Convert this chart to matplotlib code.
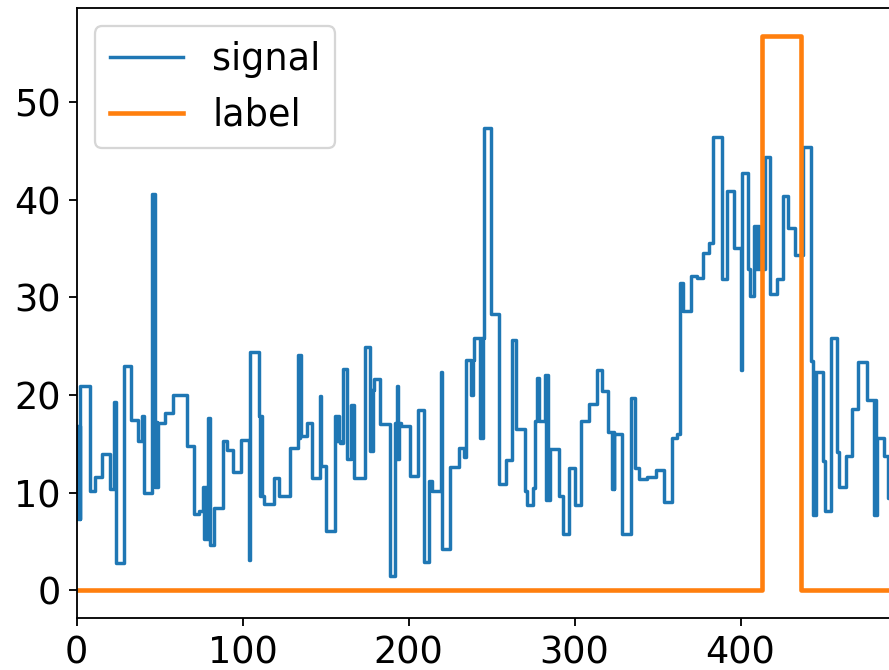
import matplotlib
matplotlib.use("Agg")
import matplotlib.pyplot as plt

# step start positions and values of the signal
signal_x = [0, 0.7, 1.4, 2, 2.4, 8, 11.4, 15.5, 19.9, 22.5, 23.5, 28.5, 32.9, 36.9, 39.6,
            40.6, 45.6, 47, 47.7, 48.3, 49, 53.6, 58.2, 66.3, 70.7, 73.7, 76.3, 77, 77.7,
            78.3, 79.1, 80.3, 82.7, 88.4, 90.8, 94.2, 98.8, 103.8, 104.4, 109.8, 110.5,
            111.2, 112, 112.8, 118.9, 121.9, 128.5, 133.3, 134, 134.6, 135.3, 139, 142,
            146.6, 147.4, 150, 156, 156.7, 157.3, 158, 159, 160.6, 163, 165.1, 167.1,
            173.5, 176.7, 177.3, 178, 178.6, 179.1, 183.1, 188.8, 191.6, 192.2, 192.8,
            193.4, 194, 195.2, 201.2, 205.6, 209.2, 212.2, 214.3, 219.3, 220.3, 225.3,
            230.3, 233.7, 234.9, 237.9, 238.6, 239.4, 243, 243.6, 244.2, 244.8, 245.4,
            249.4, 254.4, 259, 262.4, 265, 270, 271.5, 275, 276.5, 277.6, 278.4, 282.4,
            283, 283.6, 284.2, 285, 290.8, 293, 296.6, 300.6, 304, 308.6, 313.5, 316.7,
            320, 322.5, 323.2, 323.6, 324, 328.5, 334, 336.7, 338.7, 343.8, 348.8, 353.8,
            358.8, 361.9, 363.4, 365.5, 369.9, 373.9, 377.5, 380.9, 383.5, 389, 392, 396,
            400, 401, 404.6, 405.6, 408, 408.7, 409.3, 410, 410.6, 411.3, 414.5, 417.6,
            422, 425.7, 428.5, 433.1, 437.5, 442.2, 443.9, 444.4, 444.8, 445.2, 449.8,
            451.2, 454.6, 458.2, 459.2, 463.8, 467.2, 470.6, 476.2, 480.5, 481, 481.5,
            482, 486.4, 489, 495]
signal_y = [16.8, 7.3, 16.8, 7.3, 20.9, 10.2, 11.6, 14.0, 10.4, 19.3, 2.8, 23.0, 17.4, 15.3,
            17.8, 10.0, 40.6, 10.6, 17.2, 10.6, 17.1, 18.2, 20.0, 14.8, 7.8, 8.1, 10.6, 5.3,
            10.6, 5.3, 17.6, 4.6, 8.4, 15.3, 14.4, 12.1, 15.4, 3.1, 24.4, 17.9, 9.7, 17.9,
            9.7, 8.8, 11.5, 9.7, 14.6, 24.1, 15.6, 24.1, 15.8, 17.1, 11.5, 19.9, 12.7, 6.1,
            17.9, 15.3, 17.9, 15.3, 15.1, 22.7, 13.4, 19.0, 11.5, 24.9, 14.3, 20.5, 14.3,
            20.5, 21.6, 17.0, 1.5, 17.1, 13.4, 20.9, 13.4, 17.1, 16.8, 11.7, 18.5, 2.9,
            11.2, 10.2, 22.4, 4.2, 12.6, 14.6, 13.6, 23.6, 20.0, 23.6, 25.8, 15.6, 25.8,
            15.6, 25.8, 47.4, 28.3, 10.9, 13.3, 25.6, 16.5, 10.2, 8.7, 10.5, 17.3, 21.7,
            17.3, 22.1, 9.2, 22.1, 9.2, 14.5, 9.7, 5.8, 12.5, 8.7, 17.3, 19.1, 22.6, 20.4,
            16.2, 10.4, 16.2, 10.4, 16.0, 5.8, 19.7, 12.5, 11.4, 11.6, 12.3, 9.0, 15.6,
            16.0, 31.5, 28.6, 32.2, 32.0, 34.5, 35.6, 46.4, 31.9, 40.9, 35.1, 22.6, 42.7,
            32.9, 30.1, 37.3, 32.9, 37.3, 32.9, 37.3, 32.9, 44.4, 30.3, 31.9, 40.4, 37.1,
            34.3, 45.4, 23.5, 7.7, 22.4, 7.7, 22.4, 13.2, 8.1, 25.8, 14.2, 10.6, 13.8,
            18.6, 23.4, 19.5, 7.7, 19.5, 7.7, 15.6, 13.8, 9.4, 9.4]

# label: 0 everywhere except one window
label_x = [0, 413, 436.5, 495]
label_y = [0, 56.8, 0, 0]

plt.rcParams['font.size'] = 16
fig = plt.figure(figsize=(889 / 165, 670 / 165), dpi=165)
ax = fig.add_axes([76.5 / 889, 52 / 670, (492 * 1.66) / 889, 610 / 670])

ax.step(signal_x, signal_y, where='post', color='tab:blue', linewidth=1.5, label='signal')
ax.step(label_x, label_y, where='post', color='tab:orange', linewidth=2, label='label')

ax.set_xlim(0, 492)
ax.set_xticks([0, 100, 200, 300, 400])
ax.set_yticks([0, 10, 20, 30, 40, 50])
ax.legend(loc='upper left')

fig.savefig('out.png', dpi=165)
